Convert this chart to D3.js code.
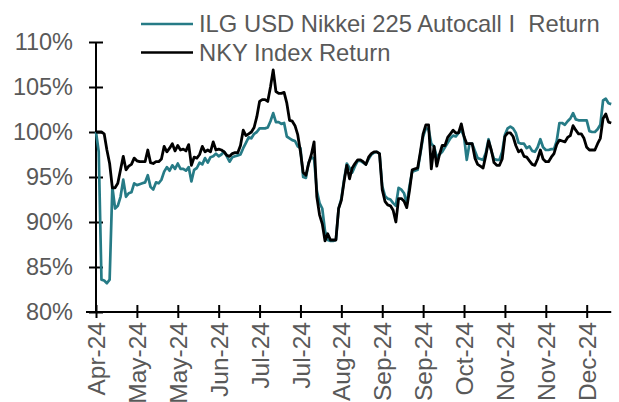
<!DOCTYPE html>
<html>
<head>
<meta charset="utf-8">
<script src="https://cdn.jsdelivr.net/npm/d3@7"></script>
<style>
  html, body { margin: 0; padding: 0; background: #fff; }
  svg { display: block; font-family: "Liberation Sans", Arial, sans-serif; }
  .legend text { white-space: pre; }
</style>
</head>
<body>
<svg id="chart" width="619" height="402"></svg>
<script>
// Series values (% return, one value per trading day)
const ilgReturn = [
  100.0, 97.8, 83.6, 83.5, 83.2, 83.6, 93.9, 91.5, 91.8, 92.8,
  94.7, 92.8, 93.2, 93.3, 94.3, 94.1, 94.2, 94.3, 94.4, 95.2,
  93.9, 93.6, 94.4, 94.3, 94.7, 95.6, 96.1, 95.7, 96.3, 95.9,
  96.5, 95.9, 95.9, 95.7, 96.1, 94.5, 95.8, 96.0, 96.6, 96.4,
  97.1, 96.6, 97.2, 97.3, 97.6, 97.3, 97.5, 97.8, 97.3, 96.7,
  97.2, 97.3, 97.4, 97.5, 98.2, 98.8, 99.4, 99.3, 99.8, 100.0,
  100.4, 100.4, 100.4, 100.5, 101.2, 102.1, 101.1, 101.1, 100.9, 101.0,
  99.5, 99.3, 99.1, 99.0, 98.4, 98.2, 95.0, 94.9, 96.6, 97.2,
  97.0, 93.5, 92.1, 91.5, 89.0, 88.0, 87.9, 87.9, 88.0, 91.5,
  92.6, 94.7, 96.5, 96.0, 95.5, 96.2, 96.8, 96.8, 96.6, 96.4,
  97.0, 97.5, 97.7, 97.8, 97.6, 94.0, 92.9, 92.6, 92.5, 92.1,
  91.8, 93.8, 93.6, 93.2, 92.0, 94.0, 95.6, 95.7, 95.8, 97.6,
  99.5, 100.4, 100.3, 98.7, 98.4, 97.2, 97.5, 97.8, 98.3, 98.8,
  99.3, 99.6, 99.5, 99.9, 100.2, 99.5, 96.9, 98.7, 98.7, 97.9,
  97.1, 97.0, 96.9, 97.7, 99.2, 97.9, 97.0, 96.9, 96.9, 97.8,
  99.7, 100.4, 100.6, 100.4, 99.9, 98.8, 98.7, 98.7, 98.2, 98.4,
  97.9, 97.8, 98.3, 99.2, 98.3, 98.0, 98.0, 98.1, 98.1, 99.0,
  101.0, 101.0, 100.8, 101.2, 101.5, 102.1, 101.4, 101.3, 101.3, 101.3,
  101.3, 100.1, 100.0, 100.0, 100.3, 100.8, 103.5, 103.7, 103.2, 103.1
];
const nkyReturn = [
  100.0, 100.0, 100.0, 99.8, 98.0, 96.5, 93.8, 93.8, 94.3, 95.8,
  97.3, 95.8, 96.2, 96.4, 97.1, 96.8, 96.7, 96.7, 96.7, 98.0,
  96.6, 96.5, 96.7, 96.7, 97.0, 98.4, 97.8, 98.2, 98.7, 97.9,
  98.5, 98.0, 98.1, 97.9, 98.6, 96.3, 97.2, 97.1, 97.5, 98.4,
  97.8, 98.0, 97.8, 98.9, 98.0, 98.1, 98.0, 97.8, 97.4, 97.3,
  97.6, 97.7, 97.7, 98.5, 100.2, 99.6, 99.8, 100.0, 100.5, 101.7,
  103.4, 103.6, 103.6, 103.4, 105.0, 106.9, 104.5, 104.3, 104.3, 104.4,
  103.2, 101.3, 101.2, 100.7, 99.7, 97.8, 95.5, 95.2, 96.5, 97.5,
  98.9, 92.8, 90.8, 89.8, 87.9, 88.7, 88.0, 88.0, 88.0, 91.5,
  92.4, 94.5, 96.3, 94.8, 96.0, 96.5, 96.9, 96.9, 96.7, 96.4,
  97.2, 97.6, 97.8, 97.8, 97.6, 93.6, 92.3, 91.9, 91.8, 91.3,
  90.0, 92.6, 92.6, 92.3, 91.6, 93.5, 95.8, 95.9, 96.0, 97.8,
  99.8, 100.8, 100.8, 95.9, 98.4, 96.2, 97.5, 98.5, 98.5, 99.4,
  99.8, 100.2, 99.9, 99.9, 100.9, 99.5, 98.7, 98.7, 98.7, 97.1,
  96.4, 96.2, 96.0, 97.4, 99.0, 98.0, 96.6, 96.3, 96.3, 97.0,
  99.5, 99.9, 99.9, 99.5, 98.5, 97.8, 98.0, 97.3, 97.2, 96.8,
  96.4, 96.3, 97.0, 98.0, 97.0, 96.7, 96.7, 97.2, 97.6, 98.6,
  99.1, 99.0, 98.9, 99.4, 99.6, 100.7, 100.2, 99.8, 99.8, 99.3,
  98.3, 98.0, 98.0, 98.0, 98.7, 99.3, 101.5, 102.0, 101.1, 101.0
];

// Axis labels: one tick every 15 trading days
const xTickLabels = ["Apr-24", "May-24", "May-24", "Jun-24", "Jul-24", "Jul-24", "Aug-24",
  "Sep-24", "Sep-24", "Oct-24", "Nov-24", "Nov-24", "Dec-24"];
const tickStep = 15;
const yTicks = [80, 85, 90, 95, 100, 105, 110];

const seriesNames = ["ILG USD Nikkei 225 Autocall I  Return", "NKY Index Return"];
const seriesColors = ["#267b86", "#000000"];

const svg = d3.select("#chart");
const textColor = "#595959";

const n = nkyReturn.length;
const x = d3.scaleLinear().domain([0, 180]).range([96, 586.7]);
const y = d3.scaleLinear().domain([80, 110]).range([312, 42]);

// Y axis
const yAxis = svg.append("g")
  .attr("transform", `translate(${x(0)},0)`)
  .call(d3.axisLeft(y).tickValues(yTicks).tickFormat(d => d + "%").tickSize(7).tickPadding(16));
yAxis.select(".domain").attr("stroke", "#000").attr("stroke-width", 2).attr("d", `M0,${y(110)}V${y(80)}`);
yAxis.selectAll(".tick line").attr("x1", 7).attr("stroke", "#000").attr("stroke-width", 2);
yAxis.selectAll(".tick text").attr("fill", textColor).attr("font-size", 23.5)
  .attr("font-family", "Liberation Sans, Arial, sans-serif");

// X axis
const xAxis = svg.append("g")
  .attr("transform", `translate(0,${y(80)})`)
  .call(d3.axisBottom(x)
    .tickValues(xTickLabels.map((_, i) => i * tickStep))
    .tickFormat((d, i) => xTickLabels[i])
    .tickSize(6));
xAxis.select(".domain").attr("stroke", "#000").attr("stroke-width", 2)
  .attr("d", `M${x(0) - 10},0H${x(n - 1)}`);
xAxis.selectAll(".tick line").attr("y1", -7).attr("stroke", "#000").attr("stroke-width", 2);
xAxis.selectAll(".tick text")
  .attr("fill", textColor).attr("font-size", 24.5)
  .attr("font-family", "Liberation Sans, Arial, sans-serif")
  .attr("text-anchor", "end")
  .attr("transform", "rotate(-90)")
  .attr("x", -10).attr("y", 0).attr("dy", "0.35em");

// Lines
const line = d3.line().x((d, i) => x(i)).y(d => y(d)).curve(d3.curveLinear);

svg.append("path").datum(ilgReturn)
  .attr("fill", "none").attr("stroke", seriesColors[0]).attr("stroke-width", 2.7)
  .attr("stroke-linejoin", "round").attr("d", line);
svg.append("path").datum(nkyReturn)
  .attr("fill", "none").attr("stroke", seriesColors[1]).attr("stroke-width", 2.8)
  .attr("stroke-linejoin", "round").attr("d", line);

// Legend
const lg = svg.append("g").attr("class", "legend").attr("transform", "translate(141,24)");
seriesNames.forEach((name, i) => {
  const row = lg.append("g").attr("transform", `translate(0,${i * 28.5})`);
  row.append("line").attr("x1", 0).attr("x2", 52).attr("y1", 0).attr("y2", 0)
    .attr("stroke", seriesColors[i]).attr("stroke-width", 2.7);
  row.append("text").attr("x", 58).attr("y", 0).attr("dy", "0.35em")
    .attr("fill", textColor).attr("font-size", 23.8)
    .text(name);
});
</script>
</body>
</html>
